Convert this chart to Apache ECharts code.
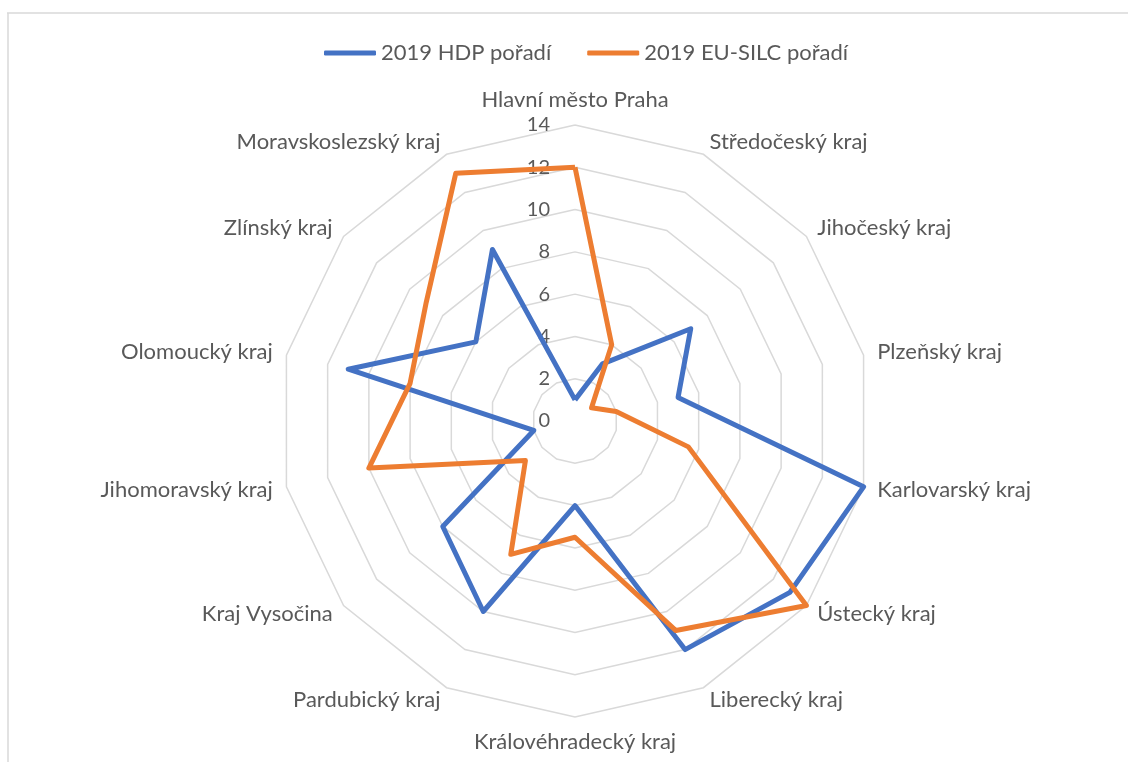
<!DOCTYPE html>
<html>
<head>
<meta charset="utf-8">
<script src="https://cdn.jsdelivr.net/npm/echarts@6/dist/echarts.min.js"></script>
<style>
  html, body { margin: 0; padding: 0; background: #fff; }
  #chart { width: 1128px; height: 762px; }
</style>
</head>
<body>
<div id="chart"></div>
<script>
// regiony v pořadí po směru hodinových ručiček od horní osy
const regions = [
  'Hlavní město Praha', 'Středočeský kraj', 'Jihočeský kraj', 'Plzeňský kraj',
  'Karlovarský kraj', 'Ústecký kraj', 'Liberecký kraj', 'Královéhradecký kraj',
  'Pardubický kraj', 'Kraj Vysočina', 'Jihomoravský kraj', 'Olomoucký kraj',
  'Zlínský kraj', 'Moravskoslezský kraj'
]
const hdpRank = [1, 3, 7, 5, 14, 13, 12, 4, 10, 8, 2, 11, 6, 9]
const silcRank = [12, 4, 1, 2, 5.5, 14, 11, 5.5, 7, 3, 10, 8, 9, 13]
const seriesNames = ['2019 HDP pořadí', '2019 EU-SILC pořadí']
const axisMax = 14
const axisStep = 2

// echarts radar jde proti směru hodinových ručiček -> přeskládat
const order = [0].concat(regions.slice(1).map((_, i) => regions.length - 1 - i))
const pick = arr => order.map(i => arr[i])

const textColor = '#595959'
const font = 'Lato'

const myChart = echarts.init(document.getElementById('chart'))
myChart.setOption({
  animation: false,
  graphic: [
    { type: 'line', shape: { x1: 7, y1: 13, x2: 1128, y2: 13 }, style: { stroke: '#d9d9d9', lineWidth: 1.5 } },
    { type: 'line', shape: { x1: 8, y1: 13, x2: 8, y2: 762 }, style: { stroke: '#d9d9d9', lineWidth: 1.5 } }
  ],
  legend: {
    data: seriesNames,
    top: 37,
    left: 319,
    itemWidth: 52,
    itemHeight: 5,
    itemGap: 36,
    icon: 'roundRect',
    textStyle: { color: textColor, fontFamily: font, fontSize: 22 }
  },
  radar: {
    center: [575, 421],
    radius: 296,
    startAngle: 90,
    splitNumber: axisMax / axisStep,
    shape: 'polygon',
    nameGap: 14,
    axisName: { color: textColor, fontFamily: font, fontSize: 22 },
    indicator: pick(regions).map((name, i) => ({
      name: name,
      min: 0,
      max: axisMax,
      axisLabel: { show: i === 0 }
    })),
    axisLine: { show: false },
    axisTick: { show: false },
    axisLabel: {
      show: false,
      color: textColor,
      fontFamily: font,
      fontSize: 20,
      margin: 25
    },
    splitLine: { lineStyle: { color: '#d9d9d9', width: 1.5 } },
    splitArea: { show: false }
  },
  series: [
    {
      type: 'radar',
      symbol: 'none',
      data: [
        {
          name: seriesNames[0],
          value: pick(hdpRank),
          itemStyle: { color: '#4472C4' },
          lineStyle: { color: '#4472C4', width: 5, join: 'round' }
        },
        {
          name: seriesNames[1],
          value: pick(silcRank),
          itemStyle: { color: '#ED7D31' },
          lineStyle: { color: '#ED7D31', width: 5, join: 'round' }
        }
      ]
    }
  ]
})
</script>
</body>
</html>
